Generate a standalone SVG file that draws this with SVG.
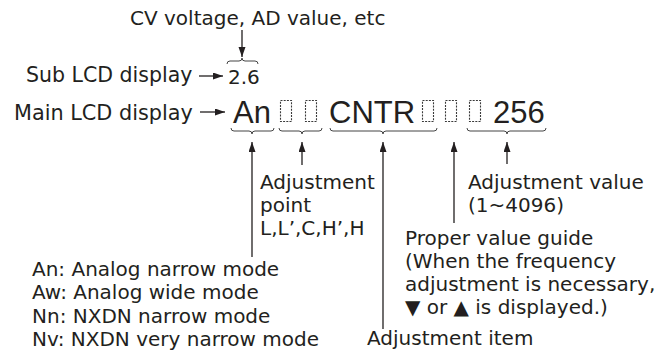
<svg xmlns="http://www.w3.org/2000/svg" width="664" height="353" viewBox="0 0 664 353">
<defs>
<style>
.t{font-family:"DejaVu Sans",sans-serif;font-size:20px;fill:#231f20}
.lcd{font-family:"Liberation Sans",Arial,sans-serif;font-size:31px;fill:#231f20}
.ln{stroke:#231f20;stroke-width:1.3;fill:none}
.br{stroke:#444;stroke-width:1;fill:none}
.bx{stroke:#3a3a3a;stroke-width:1.1;fill:none;stroke-dasharray:2 1.2}
</style>
<marker id="ah" markerUnits="userSpaceOnUse" markerWidth="11" markerHeight="8" refX="10" refY="3.5" orient="auto">
<path d="M0,0 L10,3.5 L0,7 z" fill="#231f20"/>
</marker>
</defs>
<rect width="664" height="353" fill="#fff"/>
<g id="labels">
<text class="t" x="130" y="25">CV voltage, AD value, etc</text>
<text class="t" x="26" y="82" style="font-size:20.5px">Sub LCD display</text>
<text class="t" x="14" y="120" style="font-size:20.8px">Main LCD display</text>
<text class="t" x="260" y="189">Adjustment</text>
<text class="t" x="260" y="212">point</text>
<text class="t" x="260" y="235">L,L’,C,H’,H</text>
<text class="t" x="468" y="189">Adjustment value</text>
<text class="t" x="468" y="212">(1~4096)</text>
<text class="t" x="405" y="245">Proper value guide</text>
<text class="t" x="405" y="268">(When the frequency</text>
<text class="t" x="405" y="291">adjustment is necessary,</text>
<text class="t" x="405" y="314">▼ or ▲ is displayed.)</text>
<text class="t" x="367" y="345">Adjustment item</text>
<text class="t" x="32" y="276">An: Analog narrow mode</text>
<text class="t" x="32" y="299">Aw: Analog wide mode</text>
<text class="t" x="32" y="323">Nn: NXDN narrow mode</text>
<text class="t" x="32" y="346">Nv: NXDN very narrow mode</text>
</g>
<g id="display">
<text class="t" x="228" y="84">2.6</text>
<text class="lcd" x="233" y="123">An</text>
<text class="lcd" x="329" y="123">CNTR</text>
<text class="lcd" x="493" y="123">256</text>
<rect class="bx" x="280.5" y="100.5" width="11" height="21"/>
<rect class="bx" x="305.5" y="100.5" width="11" height="21"/>
<rect class="bx" x="422.5" y="100.5" width="11" height="21"/>
<rect class="bx" x="445.5" y="100.5" width="11" height="21"/>
<rect class="bx" x="469.5" y="100.5" width="11" height="21"/>
</g>
<g id="braces">
<path class="br" d="M227,64 Q227,61 230,61 L239,61 Q242,61 242,58 Q242,61 245,61 L255,61 Q258,61 258,64"/>
<path class="br" d="M231,128 Q231,131 234,131 L249,131 Q252,131 252,134 Q252,131 255,131 L271,131 Q274,131 274,128"/>
<path class="br" d="M279,128 Q279,131 282,131 L299,131 Q302,131 302,134 Q302,131 305,131 L319,131 Q322,131 322,128"/>
<path class="br" d="M330,128 Q330,131 333,131 L380,131 Q383,131 383,134 Q383,131 386,131 L434,131 Q437,131 437,128"/>
<path class="br" d="M467,128 Q467,131 470,131 L504,131 Q507,131 507,134 Q507,131 510,131 L543,131 Q546,131 546,128"/>
</g>
<g id="connectors">
<line class="ln" x1="242" y1="30" x2="242" y2="57" marker-end="url(#ah)"/>
<line class="ln" x1="199" y1="76" x2="223" y2="76" marker-end="url(#ah)"/>
<line class="ln" x1="200" y1="112" x2="225" y2="112" marker-end="url(#ah)"/>
<line class="ln" x1="252" y1="257" x2="252" y2="142" marker-end="url(#ah)"/>
<line class="ln" x1="302" y1="165" x2="302" y2="142" marker-end="url(#ah)"/>
<line class="ln" x1="383" y1="329" x2="383" y2="142" marker-end="url(#ah)"/>
<line class="ln" x1="454" y1="223" x2="454" y2="142" marker-end="url(#ah)"/>
<line class="ln" x1="507" y1="164" x2="507" y2="142" marker-end="url(#ah)"/>
</g>
</svg>
